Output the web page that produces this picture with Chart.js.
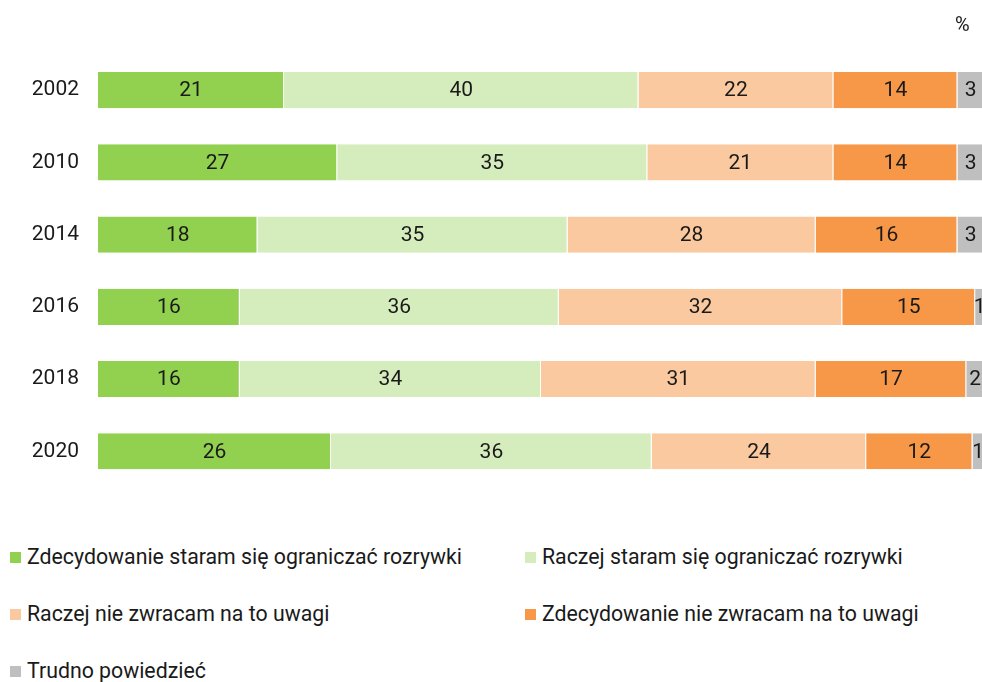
<!DOCTYPE html>
<html lang="pl">
<head>
<meta charset="utf-8">
<script src="https://cdn.jsdelivr.net/npm/chart.js@4"></script>
<style>
    html, body {
        margin: 0;
        padding: 0;
        width: 982px;
        height: 682px;
        overflow: hidden;
        background: #fff;
        font-family: Roboto, "Noto Sans", sans-serif;
        color: #1a1a1a;
    }
    #chart {
        position: absolute;
        left: 0;
        top: 0;
    }
    #unit {
        position: absolute;
        left: 955px;
        top: 12px;
        font-size: 20px;
    }
    .legend-item {
        position: absolute;
        font-size: 21.3px;
        line-height: 24px;
        white-space: nowrap;
    }
    .legend-item span.box {
        display: inline-block;
        width: 11px;
        height: 11px;
        margin-right: 6px;
        vertical-align: 1px;
    }
</style>
</head>
<body>
<canvas id="chart" width="984" height="519"></canvas>
<div id="unit">%</div>
<div id="legend"></div>

<script>
/* =========================================================
   DANE
   ========================================================= */

const years = ["2002", "2010", "2014", "2016", "2018", "2020"];

const seriesNames = [
    "Zdecydowanie staram się ograniczać rozrywki",
    "Raczej staram się ograniczać rozrywki",
    "Raczej nie zwracam na to uwagi",
    "Zdecydowanie nie zwracam na to uwagi",
    "Trudno powiedzieć"
];

const strongLimit = [21, 27, 18, 16, 16, 26.3];
const ratherLimit = [40, 35, 35, 36, 34, 36.2];
const ratherIgnore = [22, 21, 28, 32, 31, 24.2];
const strongIgnore = [14, 14, 16, 15, 17, 12];
const hardToSay = [3, 3, 3, 1, 2, 1.3];

const seriesColors = ["#92d050", "#d5ecbd", "#fac9a0", "#f79748", "#bfbfbf"];


/* =========================================================
   ETYKIETY NA SŁUPKACH
   ========================================================= */

const barLabels = {
    id: "barLabels",
    afterDatasetsDraw(chart) {
        const ctx = chart.ctx;
        ctx.save();
        ctx.font = "21px Roboto, sans-serif";
        ctx.fillStyle = "#1a1a1a";
        ctx.textAlign = "center";
        ctx.textBaseline = "middle";
        chart.data.datasets.forEach((dataset, di) => {
            const meta = chart.getDatasetMeta(di);
            meta.data.forEach((bar, i) => {
                const p = bar.getCenterPoint();
                ctx.fillText(String(Math.round(dataset.data[i])), p.x, p.y + 1);
            });
        });
        ctx.restore();
    }
};


/* =========================================================
   WYKRES
   ========================================================= */

const allSeries = [strongLimit, ratherLimit, ratherIgnore, strongIgnore, hardToSay];

const canvas = document.getElementById("chart");
canvas.style.width = "984px";
canvas.style.height = "519px";

new Chart(canvas.getContext("2d"), {
    type: "bar",
    data: {
        labels: years,
        datasets: allSeries.map((values, i) => ({
            label: seriesNames[i],
            data: values,
            backgroundColor: seriesColors[i],
            borderColor: "#ffffff",
            borderWidth: { left: 0, right: 1, top: 0, bottom: 0 },
            borderSkipped: false,
            categoryPercentage: 1,
            barPercentage: 0.5
        }))
    },
    options: {
        indexAxis: "y",
        responsive: false,
        animation: false,
        layout: {
            padding: { top: 54, bottom: 4, left: 0, right: 0 }
        },
        plugins: {
            legend: { display: false },
            tooltip: { enabled: false }
        },
        scales: {
            x: {
                stacked: true,
                min: 0,
                max: 100,
                display: false
            },
            y: {
                stacked: true,
                grid: { display: false, drawTicks: false },
                border: { display: false },
                ticks: {
                    padding: 19,
                    color: "#1a1a1a",
                    font: { family: "Roboto", size: 21 }
                },
                afterFit(scale) {
                    scale.width = 98;
                }
            }
        }
    },
    plugins: [barLabels]
});


/* =========================================================
   LEGENDA
   ========================================================= */

const legendPos = [
    [10, 545], [525, 545],
    [10, 602], [525, 602],
    [10, 659]
];

const legend = document.getElementById("legend");
seriesNames.forEach((name, i) => {
    const item = document.createElement("div");
    item.className = "legend-item";
    item.style.left = legendPos[i][0] + "px";
    item.style.top = legendPos[i][1] + "px";
    item.innerHTML = `<span class="box" style="background:${seriesColors[i]}"></span>${name}`;
    legend.appendChild(item);
});
</script>
</body>
</html>
